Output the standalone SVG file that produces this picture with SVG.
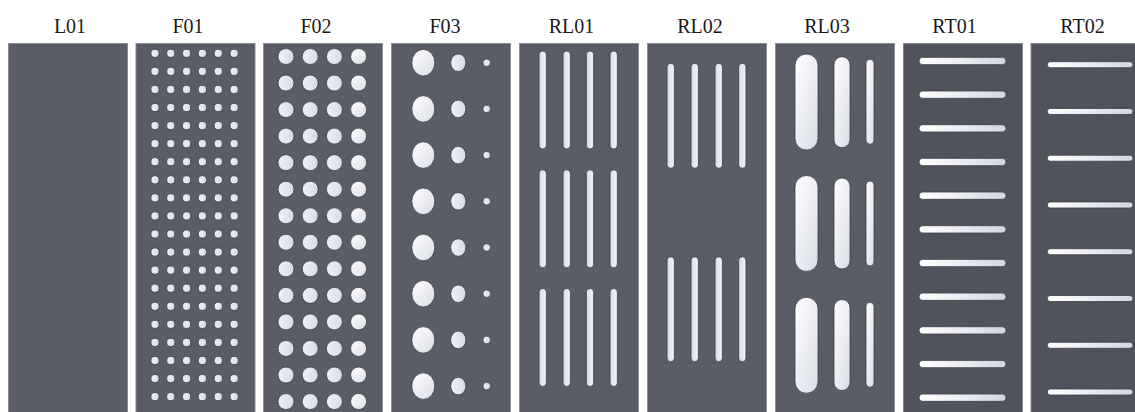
<svg xmlns="http://www.w3.org/2000/svg" width="1135" height="412" viewBox="0 0 1135 412">
<style>
.lbl{font-family:"Liberation Serif","Times New Roman",serif;font-size:20px;fill:#1a1a1a;text-anchor:middle}
.pan{fill:#5a5d66;stroke:#8a8d95;stroke-width:1}
.panD{fill:#50525c;stroke:#84868e;stroke-width:1}
.h{stroke:#3c3e46;stroke-width:0.8}
</style>
<defs>
<linearGradient id="gA" x1="0" y1="0" x2="1" y2="0"><stop offset="0" stop-color="#f0f1f6"/><stop offset="1" stop-color="#d8dbe5"/></linearGradient>
<linearGradient id="gB" x1="0" y1="0" x2="1" y2="1"><stop offset="0" stop-color="#ffffff"/><stop offset="1" stop-color="#dadde7"/></linearGradient>
<linearGradient id="gC" x1="0" y1="0" x2="1" y2="0"><stop offset="0" stop-color="#ffffff"/><stop offset="0.45" stop-color="#eceef3"/><stop offset="1" stop-color="#d3d6e1"/></linearGradient>
<linearGradient id="gD" x1="0" y1="0" x2="1" y2="0"><stop offset="0" stop-color="#d8dbe6"/><stop offset="1" stop-color="#f4f5f8"/></linearGradient>
<g id="rowF01">
<circle cx="155" cy="0" r="4.1" fill="url(#gA)" class="h"/>
<circle cx="170.8" cy="0" r="4.1" fill="url(#gA)" class="h"/>
<circle cx="186.6" cy="0" r="4.1" fill="url(#gA)" class="h"/>
<circle cx="202.4" cy="0" r="4.1" fill="url(#gA)" class="h"/>
<circle cx="218.3" cy="0" r="4.1" fill="url(#gA)" class="h"/>
<circle cx="234.2" cy="0" r="4.1" fill="url(#gA)" class="h"/>
</g>
<g id="rowF02">
<circle cx="286" cy="0" r="8" fill="url(#gA)" class="h"/>
<circle cx="310.2" cy="0" r="8" fill="url(#gA)" class="h"/>
<circle cx="334.4" cy="0" r="8" fill="url(#gA)" class="h"/>
<circle cx="358.6" cy="0" r="8" fill="url(#gB)" class="h"/>
</g>
<g id="rowF03">
<ellipse cx="423.3" cy="0" rx="11.5" ry="13.3" fill="url(#gB)" class="h"/>
<ellipse cx="458.3" cy="0" rx="7.6" ry="8.8" fill="url(#gA)" class="h"/>
<circle cx="486.7" cy="0" r="3.8" fill="url(#gA)" class="h"/>
</g>
<rect id="s1" x="-3.65" y="0" width="7.3" height="98" rx="3.65" fill="url(#gD)" class="h"/>
<rect id="s2" x="-3.65" y="0" width="7.3" height="105" rx="3.65" fill="url(#gD)" class="h"/>
<rect id="r1" x="-11.5" y="0" width="23" height="96" rx="11.5" fill="url(#gB)" class="h"/>
<rect id="r2" x="-8" y="0" width="16" height="91" rx="8" fill="url(#gB)" class="h"/>
<rect id="r3" x="-4" y="0" width="8" height="85" rx="4" fill="url(#gB)" class="h"/>
<rect id="t1" x="919" y="-3.65" width="87" height="7.3" rx="3.65" fill="url(#gC)" class="h"/>
<rect id="t2" x="1047.3" y="-3" width="85.7" height="6" rx="3" fill="url(#gC)" class="h"/>
</defs>
<rect width="1135" height="412" fill="#ffffff"/>

<g id="labels">
<text class="lbl" x="70" y="33">L01</text>
<text class="lbl" x="188" y="33">F01</text>
<text class="lbl" x="316" y="33">F02</text>
<text class="lbl" x="445" y="33">F03</text>
<text class="lbl" x="571.5" y="33">RL01</text>
<text class="lbl" x="700" y="33">RL02</text>
<text class="lbl" x="827" y="33">RL03</text>
<text class="lbl" x="954.5" y="33">RT01</text>
<text class="lbl" x="1082.5" y="33">RT02</text>
</g>

<g id="L01"><rect class="pan" x="8.5" y="43.5" width="119" height="380"/></g>

<g id="F01"><rect class="pan" x="136" y="43.5" width="119" height="380"/>
<use href="#rowF01" y="53.3"/><use href="#rowF01" y="71.37"/><use href="#rowF01" y="89.44"/><use href="#rowF01" y="107.51"/><use href="#rowF01" y="125.58"/>
<use href="#rowF01" y="143.65"/><use href="#rowF01" y="161.72"/><use href="#rowF01" y="179.79"/><use href="#rowF01" y="197.86"/><use href="#rowF01" y="215.93"/>
<use href="#rowF01" y="234"/><use href="#rowF01" y="252.07"/><use href="#rowF01" y="270.14"/><use href="#rowF01" y="288.21"/><use href="#rowF01" y="306.28"/>
<use href="#rowF01" y="324.35"/><use href="#rowF01" y="342.42"/><use href="#rowF01" y="360.49"/><use href="#rowF01" y="378.56"/><use href="#rowF01" y="396.63"/>
</g>

<g id="F02"><rect class="pan" x="263.5" y="43.5" width="119" height="380"/>
<use href="#rowF02" y="56.5"/><use href="#rowF02" y="83.04"/><use href="#rowF02" y="109.58"/><use href="#rowF02" y="136.12"/><use href="#rowF02" y="162.66"/>
<use href="#rowF02" y="189.2"/><use href="#rowF02" y="215.74"/><use href="#rowF02" y="242.28"/><use href="#rowF02" y="268.82"/><use href="#rowF02" y="295.36"/>
<use href="#rowF02" y="321.9"/><use href="#rowF02" y="348.44"/><use href="#rowF02" y="374.98"/><use href="#rowF02" y="401.52"/>
</g>

<g id="F03"><rect class="pan" x="391.5" y="43.5" width="119" height="380"/>
<use href="#rowF03" y="62.7"/><use href="#rowF03" y="108.9"/><use href="#rowF03" y="155.1"/><use href="#rowF03" y="201.3"/>
<use href="#rowF03" y="247.5"/><use href="#rowF03" y="293.7"/><use href="#rowF03" y="339.9"/><use href="#rowF03" y="386.1"/>
</g>

<g id="RL01"><rect class="pan" x="519.5" y="43.5" width="119" height="380"/>
<use href="#s1" x="542.7" y="51"/><use href="#s1" x="566.7" y="51"/><use href="#s1" x="590" y="51"/><use href="#s1" x="613.7" y="51"/>
<use href="#s1" x="542.7" y="169.8"/><use href="#s1" x="566.7" y="169.8"/><use href="#s1" x="590" y="169.8"/><use href="#s1" x="613.7" y="169.8"/>
<use href="#s1" x="542.7" y="288.5"/><use href="#s1" x="566.7" y="288.5"/><use href="#s1" x="590" y="288.5"/><use href="#s1" x="613.7" y="288.5"/>
</g>

<g id="RL02"><rect class="pan" x="647.5" y="43.5" width="119" height="380"/>
<use href="#s2" x="670.7" y="63.3"/><use href="#s2" x="694.7" y="63.3"/><use href="#s2" x="718.7" y="63.3"/><use href="#s2" x="742.3" y="63.3"/>
<use href="#s2" x="670.7" y="256.7"/><use href="#s2" x="694.7" y="256.7"/><use href="#s2" x="718.7" y="256.7"/><use href="#s2" x="742.3" y="256.7"/>
</g>

<g id="RL03"><rect class="pan" x="775.5" y="43.5" width="119" height="380"/>
<use href="#r1" x="806.5" y="54"/><use href="#r2" x="842" y="56.7"/><use href="#r3" x="870" y="59.3"/>
<use href="#r1" x="806.5" y="175.5"/><use href="#r2" x="842" y="178"/><use href="#r3" x="870" y="181"/>
<use href="#r1" x="806.5" y="297.3"/><use href="#r2" x="842" y="299.5"/><use href="#r3" x="870" y="302.3"/>
</g>

<g id="RT01"><rect class="panD" x="903.5" y="43.5" width="119" height="380"/>
<use href="#t1" y="61"/><use href="#t1" y="94.67"/><use href="#t1" y="128.34"/><use href="#t1" y="162.01"/><use href="#t1" y="195.68"/><use href="#t1" y="229.35"/><use href="#t1" y="263.02"/><use href="#t1" y="296.69"/><use href="#t1" y="330.36"/><use href="#t1" y="364.03"/><use href="#t1" y="397.7"/>
</g>

<g id="RT02"><rect class="panD" x="1031" y="43.5" width="119" height="380"/>
<use href="#t2" y="64.7"/><use href="#t2" y="111.46"/><use href="#t2" y="158.22"/><use href="#t2" y="204.98"/><use href="#t2" y="251.74"/><use href="#t2" y="298.5"/><use href="#t2" y="345.26"/><use href="#t2" y="392.02"/>
</g>
</svg>
